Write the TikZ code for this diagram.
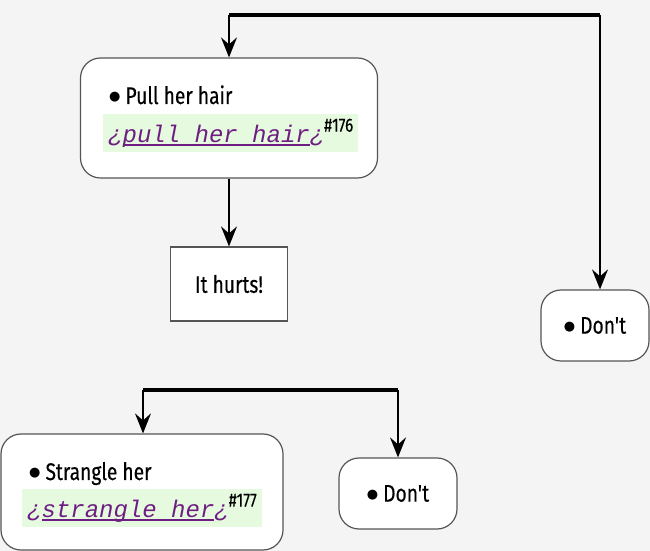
\documentclass[tikz,border=0pt]{standalone}
\usepackage{fontspec}
\setmainfont{Fira Sans}[FakeStretch=0.8,FakeBold=0.3,Ligatures=TeXOff]
\newfontfamily\codefont{Liberation Mono}
\newfontfamily\symfont{DejaVu Sans}
\usetikzlibrary{arrows.meta}
\definecolor{bgcol}{HTML}{F4F4F4}
\definecolor{codegreen}{HTML}{E6FADF}
\definecolor{linkpurple}{HTML}{6E1E82}
\definecolor{boxline}{HTML}{555555}
\newlength\ulwd
\newcommand\codelink[1]{\settowidth\ulwd{#1}\rlap{\rule[-3pt]{\ulwd}{1.6pt}}#1}
\newcommand\codeline[2]{{\codefont\itshape\color{linkpurple}¿\codelink{#1}¿}\raisebox{11pt}{\fontsize{19}{19}\selectfont\##2}}
\newcommand\blt{\raisebox{3pt}{\symfont\fontsize{13}{13}\selectfont ●}\hspace{5pt}}

\begin{document}
\begin{tikzpicture}[x=1pt,y=1pt,font=\fontsize{24}{28}\selectfont]
\fill[bgcol] (0,0) rectangle (650,551);
\useasboundingbox (0,0) rectangle (650,551);

% bars
\coordinate (bar1l) at (229,536);
\coordinate (bar1r) at (600,536);
\coordinate (bar2l) at (143,161);
\coordinate (bar2r) at (398,161);
\draw[line width=3.5pt] (bar1l) -- (bar1r);
\draw[line width=3.5pt] (bar2l) -- (bar2r);

% boxes
\begin{scope}[every node/.style={draw=boxline,line width=1.2pt,fill=white,rounded corners=20pt,inner sep=0pt}]
	\node[minimum width=297pt,minimum height=120pt] (pull) at (229,433) {};
	\node[minimum width=108pt,minimum height=71pt] (dontA) at (595,225.5) {\blt Don't};
	\node[minimum width=282pt,minimum height=116pt] (strangle) at (142,59) {};
	\node[minimum width=118pt,minimum height=71pt] (dontB) at (398,57.5) {\blt Don't};
	\node[rounded corners=0pt,minimum width=117pt,minimum height=74pt] (hurts) at (229,267) {It hurts!};
\end{scope}

% box contents
\begin{scope}[every node/.style={inner sep=0pt,anchor=base west}]
	\node (pulltxt) at (109,447) {\blt Pull her hair};
	\node (strangletxt) at (29,71) {\blt Strangle her};
\end{scope}
\begin{scope}[every node/.style={fill=codegreen,inner xsep=5pt,inner ysep=0pt,minimum height=38pt,anchor=north west}]
	\node (pullcode) at (103,437) {\codeline{pull her hair}{176}};
	\node (stranglecode) at (22,62) {\codeline{strangle her}{177}};
\end{scope}

% arrows
\begin{scope}[every edge/.style={draw=black,line width=2pt,-{Stealth[length=20pt,width=16pt,inset=7pt]}}]
	\path (bar1l) edge (bar1l |- pull.north);
	\path (pull) edge (hurts);
	\path (bar1r) edge (bar1r |- dontA.north);
	\path (bar2l) edge (bar2l |- strangle.north);
	\path (bar2r) edge (dontB);
\end{scope}
\end{tikzpicture}
\end{document}
